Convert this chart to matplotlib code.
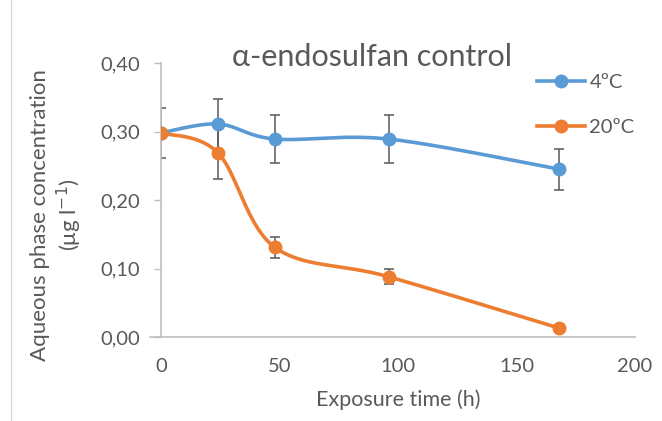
import numpy as np
import matplotlib
matplotlib.use("Agg")
import matplotlib.pyplot as plt
from matplotlib.lines import Line2D

plt.rcParams['font.family'] = ['Lato', 'DejaVu Sans']

time_h = [0, 24, 48, 96, 168]
c_4C = [0.298, 0.311, 0.289, 0.289, 0.245]
err_4C = [0.036, 0.036, 0.035, 0.035, 0.030]
c_20C = [0.298, 0.269, 0.131, 0.088, 0.013]
err_20C = [0.0, 0.038, 0.015, 0.011, 0.0]
series_labels = ["4ºC", "20ºC"]
xticks = [0, 50, 100, 150, 200]
yticks = [0.0, 0.1, 0.2, 0.3, 0.4]
ytick_labels = ["0,00", "0,10", "0,20", "0,30", "0,40"]

BLUE = "#5B9BD5"
ORANGE = "#ED7D31"
GRAY = "#595959"

fig = plt.figure(figsize=(6.62, 4.21), dpi=100)
ax = fig.add_axes([161/662, 1-337/421, (635-161)/662, (337-63)/421])
ax.set_xlim(0, 200)
ax.set_ylim(0, 0.4)


def smooth(xs, ys, n=40):
    # Excel-like smoothing: Bezier segments with Catmull-Rom control points, in display space
    pts = ax.transData.transform(np.column_stack([xs, ys]))
    P = np.vstack([pts[0], pts, pts[-1]])
    out = []
    for i in range(1, len(P) - 2):
        p0, p1, p2, p3 = P[i-1], P[i], P[i+1], P[i+2]
        c1 = p1 + (p2 - p0) / 6.0
        c2 = p2 - (p3 - p1) / 6.0
        t = np.linspace(0, 1, n)[:, None]
        seg = ((1-t)**3)*p1 + 3*((1-t)**2)*t*c1 + 3*(1-t)*t**2*c2 + t**3*p2
        out.append(seg if i == 1 else seg[1:])
    curve = np.vstack(out)
    data = ax.transData.inverted().transform(curve)
    return data[:, 0], data[:, 1]


for ys, es, col, lab in [(c_4C, err_4C, BLUE, series_labels[0]),
                         (c_20C, err_20C, ORANGE, series_labels[1])]:
    sx, sy = smooth(time_h, ys)
    ax.plot(sx, sy, color=col, lw=2.6, solid_capstyle='round', zorder=3)
    ax.errorbar(time_h, ys, yerr=es, fmt='none', ecolor=GRAY, elinewidth=1.1,
                capsize=3.5, capthick=1.1, zorder=2)
    ax.plot(time_h, ys, 'o', color=col, ms=9, zorder=4)

for s in ['top', 'right']:
    ax.spines[s].set_visible(False)
ax.spines['left'].set_color('#BFBFBF')
ax.spines['bottom'].set_color('#BFBFBF')
ax.spines['left'].set_linewidth(1.2)
ax.spines['bottom'].set_linewidth(1.2)
ax.spines['bottom'].set_bounds(-4.5, 200)

ax.set_xticks(xticks)
ax.set_xticklabels([str(v) for v in xticks])
ax.set_yticks(yticks)
ax.set_yticklabels(ytick_labels)
ax.tick_params(axis='x', length=0, pad=15, labelsize=14.5, labelcolor=GRAY)
ax.tick_params(axis='y', length=5, width=1, color='#BFBFBF', pad=10, labelsize=14.5, labelcolor=GRAY)
for lbl in ax.get_xticklabels() + ax.get_yticklabels():
    lbl.set_clip_on(False)

ax.set_xlabel("Exposure time (h)", fontsize=15.5, color=GRAY)
ax.xaxis.set_label_coords(0.5, (337-389)/274)
ax.set_ylabel("Aqueous phase concentration\n(μg l$^{-1}$)", fontsize=16, color=GRAY,
              linespacing=1.2)
ax.yaxis.set_label_coords((84-161)/474, (337-215)/274)

fig.text(372/662, 1-57/421, "α-endosulfan control", ha='center', va='center',
         fontsize=22, color=GRAY)

handles = [Line2D([], [], color=BLUE, lw=2.6, marker='o', ms=9),
           Line2D([], [], color=ORANGE, lw=2.6, marker='o', ms=9)]
leg = fig.legend(handles, series_labels, loc='upper left',
                 bbox_to_anchor=(537/662, 1-74/421), frameon=False,
                 fontsize=14.5, labelcolor=GRAY, handlelength=2.4,
                 labelspacing=1.4, handletextpad=0.2, borderpad=0,
                 borderaxespad=0)

fig.add_artist(Line2D([11/662, 11/662], [0, 1], color='#D9D9D9', lw=1.0,
                      transform=fig.transFigure))

fig.savefig("out.png", dpi=100)
